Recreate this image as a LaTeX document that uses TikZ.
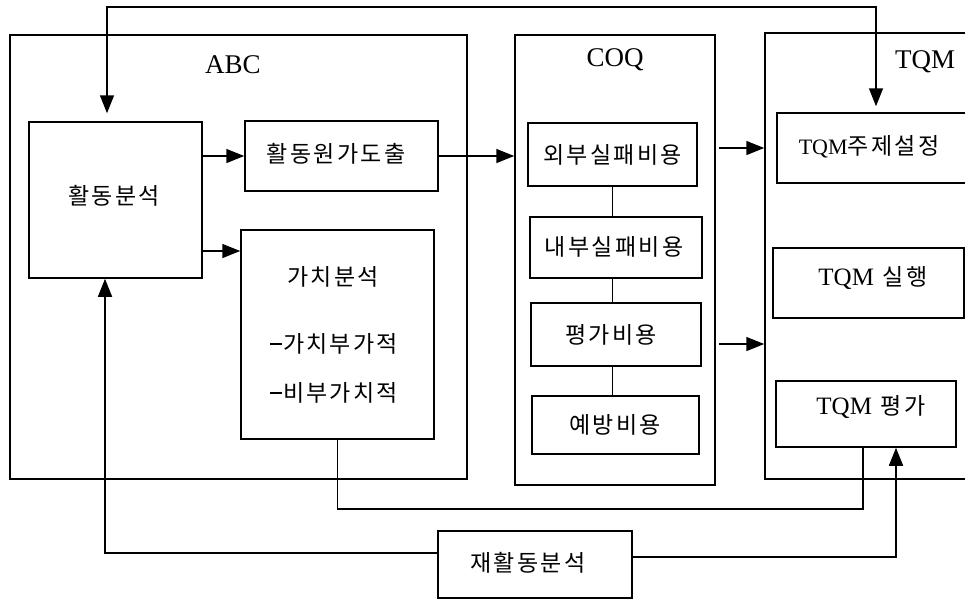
\documentclass[tikz,border=0pt]{standalone}
\usepackage{fontspec}
\setmainfont{Liberation Serif}
\newfontfamily\kr[LetterSpace=10]{Noto Sans CJK KR}
\usetikzlibrary{arrows.meta}
\newcommand{\mdash}{\rule[8pt]{12pt}{1.3pt}\hspace{1pt}}
\tikzset{
  box/.style={draw, line width=1.5pt, inner sep=0pt},
  arr/.style={-{Triangle[length=18pt,width=14pt]}},
  dblarr/.style={{Triangle[length=18pt,width=14pt]}-{Triangle[length=18pt,width=14pt]}},
  kt/.style={font=\kr\fontsize{23}{28}\selectfont, inner sep=0pt},
  lt/.style={font=\fontsize{27}{32}\selectfont, inner sep=0pt},
}
\begin{document}
\begin{tikzpicture}[x=1pt, y=-1pt, line width=1.5pt]
\useasboundingbox (0,0) rectangle (965,600);
\clip (0,0) rectangle (965,600);
% group boxes
\node[box, minimum width=457pt, minimum height=444pt] (abc) at (238.5,257) {};
\node[box, minimum width=200pt, minimum height=450pt] (coq) at (615,260) {};
\node[box, minimum width=235pt, minimum height=446pt] (tqm) at (882.5,256) {};
\node[lt] (abcl) at (233,65) {ABC};
\node[lt] (coql) at (615,60) {COQ};
\node[lt] (tqml) at (925,62) {TQM};
% ABC boxes
\node[box, minimum width=173pt, minimum height=156pt] (ana) at (115.5,200) {};
\node[kt] (anat) at (114,196) {활동분석};
\node[box, minimum width=193pt, minimum height=70pt] (cost) at (341.5,156) {};
\node[kt] (costt) at (336,154) {활동원가도출};
\node[box, minimum width=193pt, minimum height=209pt] (val) at (337.5,334.5) {};
\node[kt] (valt1) at (333,277) {가치분석};
\node[kt] (valt2) at (334,344) {\mdash 가치부가적};
\node[kt] (valt3) at (334,393) {\mdash 비부가치적};
% COQ boxes
\node[box, minimum width=169pt, minimum height=63pt] (ext) at (612.5,154.5) {};
\node[kt] (extt) at (612.5,155) {외부실패비용};
\node[box, minimum width=172pt, minimum height=61pt] (int) at (616,247.5) {};
\node[kt] (intt) at (614,247) {내부실패비용};
\node[box, minimum width=170pt, minimum height=63pt] (app) at (616,334.5) {};
\node[kt] (appt) at (611,335) {평가비용};
\node[box, minimum width=167pt, minimum height=58pt] (pre) at (615.5,425) {};
\node[kt] (pret) at (615,425) {예방비용};
% TQM boxes
\node[box, minimum width=223pt, minimum height=70pt] (theme) at (888.5,148) {};
\node[inner sep=0pt] (themet) at (869,147) {{\fontsize{22}{26}\selectfont TQM}{\kr\fontsize{23}{28}\selectfont 주제설정}};
\node[box, minimum width=191pt, minimum height=70pt] (exec) at (868.5,283) {};
\node[inner sep=0pt] (exect) at (873,278) {{\fontsize{25}{30}\selectfont TQM}\hspace{9pt}{\kr\fontsize{23}{28}\selectfont 실행}};
\node[box, minimum width=180pt, minimum height=66pt] (eval) at (866,414) {};
\node[inner sep=0pt] (evalt) at (871,407) {{\fontsize{25}{30}\selectfont TQM}\hspace{9pt}{\kr\fontsize{23}{28}\selectfont 평가}};
% re-analysis
\node[box, minimum width=194pt, minimum height=67pt] (reana) at (535,564.5) {};
\node[kt] (reanat) at (528,563) {재활동분석};
% helper coordinates
\coordinate (t1) at (107,7);
\coordinate (t2) at (876,7);
\coordinate (a2) at (202,251);
\coordinate (c1) at (719,148);
\coordinate (c2) at (719,344);
\coordinate (c3) at (863,509);
\coordinate (c4) at (105,553);
\coordinate (c5) at (896,557);
% connectors
\draw[dblarr, shorten <=8pt, shorten >=6pt] (ana.north -| t1) -- (t1) -- (t2) -- (theme.north -| t2);
\draw[arr] (ana.east |- cost.west) -- (cost.west);
\draw[arr] (ana.east |- a2) -- (val.west |- a2);
\draw[arr] (cost.east) -- (coq.west |- cost.east);
\draw[arr] (c1) -- (tqm.west |- c1);
\draw[arr] (c2) -- (tqm.west |- c2);
\draw (ext.south) -- (ext.south |- int.north);
\draw (ext.south |- int.south) -- (ext.south |- app.north);
\draw (ext.south |- app.south) -- (ext.south |- pre.north);
\draw (val.south) -- (val.south |- c3) -- (c3) -- (eval.south -| c3);
\draw[arr] (reana.west |- c4) -- (c4) -- (ana.south -| c4);
\draw[arr] (reana.east |- c5) -- (c5) -- (eval.south -| c5);
\end{tikzpicture}
\end{document}
